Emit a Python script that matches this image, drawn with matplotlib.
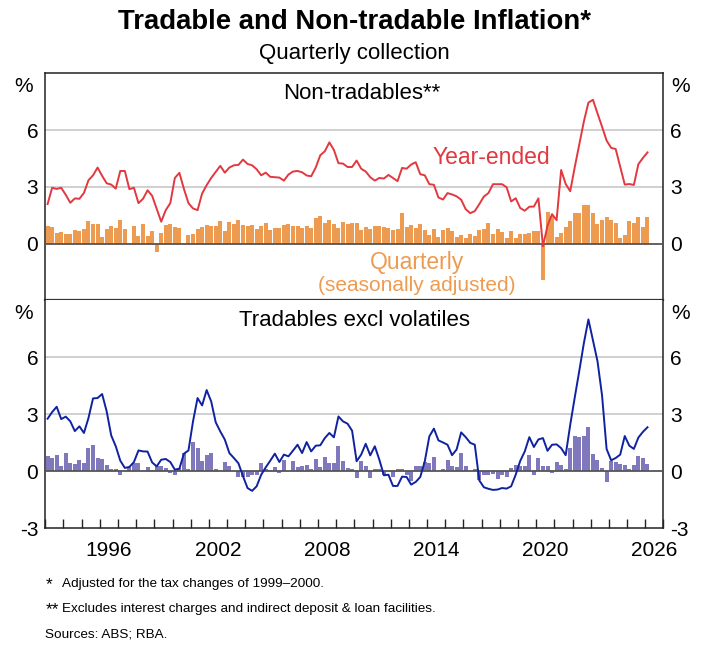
import numpy as np
import pandas as pd
import matplotlib
matplotlib.use("Agg")
import matplotlib.pyplot as plt

plt.rcParams['font.family'] = ['Liberation Sans', 'DejaVu Sans']
plt.rcParams['axes.unicode_minus'] = False

# quarterly data, 1993Q1 to 2026Q1
quarters = pd.period_range('1993Q1', '2026Q1', freq='Q')

nontrad_yearended = [
    2.09, 2.95, 2.89, 2.95, 2.58, 2.16, 2.39, 2.37, 2.68, 3.35, 3.61, 4.02, 3.58, 3.19, 3.12, 2.91,
    3.84, 3.84, 2.88, 2.95, 2.14, 2.37, 2.82, 2.53, 1.84, 1.16, 1.77, 2.14, 3.47, 3.74, 2.89, 2.14,
    1.86, 1.77, 2.65, 3.09, 3.47, 3.79, 4.11, 3.75, 4.02, 4.14, 4.16, 4.44, 4.21, 4.14,
    3.93, 3.61, 3.75, 3.53, 3.51, 3.49, 3.33, 3.65, 3.81, 3.84, 3.77, 3.60, 3.56, 4.02, 4.67, 4.88,
    5.35, 4.95, 4.25, 4.23, 4.05, 4.05, 4.39, 3.96, 3.81, 3.51, 3.33, 3.47, 3.44, 3.63, 3.47, 3.30,
    4.00, 3.96, 4.18, 4.30, 3.67, 3.61, 3.14, 3.11, 2.44, 2.33, 2.67, 2.60, 2.50,
    2.32, 1.82, 1.61, 1.72, 2.09, 2.49, 2.67, 3.14, 3.14, 3.14, 2.98, 2.23, 2.40, 1.88, 1.74, 1.95,
    1.96, 2.39, -0.14, 0.95, 1.56, 1.24, 3.89, 3.15, 2.77, 4.05, 5.25, 6.45, 7.45, 7.60, 6.88, 6.18,
    5.45, 5.06, 5.00, 4.07, 3.12, 3.15, 3.10, 4.20, 4.53, 4.82,
]
nontrad_quarterly = [
    0.95, 0.90, 0.58, 0.63, 0.53, 0.53, 0.74, 0.65, 0.79, 1.21, 1.05, 1.05, 0.37, 0.79, 0.95, 0.84,
    1.26, 0.79, -0.03, 0.95, 0.42, 1.05, 0.42, 0.68, -0.42, 0.58, 1.00, 1.05, 0.90, 0.84, 0.03, 0.47,
    0.53, 0.79, 0.90, 1.00, 0.95, 0.95, 1.21, 0.68, 1.16, 1.05, 1.26, 1.00, 0.95, 1.00,
    0.79, 0.95, 1.10, 0.74, 0.84, 0.84, 1.00, 1.05, 0.95, 0.95, 0.84, 0.95, 0.84, 1.37, 1.47, 1.10,
    1.26, 1.05, 0.84, 1.16, 1.05, 1.10, 1.10, 0.74, 0.90, 0.79, 0.95, 0.95, 0.90, 0.84, 0.74, 0.79,
    1.63, 0.90, 1.00, 0.84, 1.05, 0.74, 0.47, 0.79, 0.37, 0.74, 0.84, 0.68, 0.33,
    0.47, 0.32, 0.53, 0.42, 0.74, 0.79, 1.10, 0.53, 0.79, 0.63, 0.32, 0.68, 0.32, 0.53, 0.53, 0.58,
    0.68, 0.68, -1.93, 1.68, 1.47, 0.37, 0.58, 0.90, 1.21, 1.63, 1.63, 2.05, 2.05, 1.63, 1.05, 1.26,
    1.42, 1.26, 1.10, 0.32, 0.47, 1.21, 1.10, 1.42, 0.90, 1.42,
]
trad_yearended = [
    2.77, 3.12, 3.40, 2.75, 2.88, 2.63, 2.12, 2.37, 2.02, 2.81, 3.84, 3.86, 4.07, 3.16, 1.89, 1.32,
    0.56, 0.18, 0.23, 0.49, 1.10, 1.05, 1.04, 0.47, 0.26, 0.61, 0.65, 0.49, 0.09, 0.14, 0.93, 1.10,
    2.63, 3.86, 3.47, 4.28, 3.68, 2.58, 2.10, 1.67, 0.96, 0.70, 0.42, -0.26, -0.88, -1.03,
    -0.79, -0.18, 0.21, 0.56, 0.93, 0.49, 0.88, 0.79, 1.09, 1.40, 0.96, 1.54, 1.05, 1.35, 1.37, 1.75,
    2.02, 1.79, 2.89, 2.63, 2.51, 2.14, 0.53, 0.88, 1.45, 0.84, 1.32, 0.61, -0.21, -0.18, -0.77, -0.77,
    -0.28, -0.30, -0.70, -0.56, -0.30, 0.53, 1.84, 2.25, 1.63, 1.52, 1.40, 0.85, 1.15,
    2.05, 1.80, 1.50, 1.40, -0.48, -0.84, -0.92, -0.98, -0.96, -0.88, -0.91, -0.79, -0.18, 0.55, 1.05, 1.80,
    1.28, 1.68, 1.75, 1.08, 1.40, 1.42, 1.22, 0.85, 2.45, 3.90, 5.30, 6.75, 8.00, 6.90, 5.80, 4.00,
    1.18, 0.58, 0.70, 0.88, 1.86, 1.35, 1.18, 1.78, 2.08, 2.32,
]
trad_quarterly = [
    0.82, 0.72, 0.88, 0.30, 0.98, 0.46, 0.40, 0.61, 0.46, 1.25, 1.40, 0.72, 0.67, 0.35, 0.14, 0.14,
    -0.17, 0.03, 0.22, 0.44, 0.46, 0.03, 0.21, 0.05, 0.26, 0.26, 0.15, -0.10, -0.20, 0.20, 0.96, 0.10,
    1.52, 1.25, 0.56, 0.88, 0.98, 0.14, 0.02, 0.51, 0.26, 0.04, -0.32, -0.30, -0.32, -0.20,
    -0.18, 0.46, 0.14, 0.09, 0.25, -0.09, 0.61, 0.03, 0.55, 0.25, 0.30, 0.35, 0.12, 0.65, 0.25, 0.77,
    0.46, 0.46, 1.35, 0.56, 0.19, 0.14, -0.37, 0.56, 0.30, -0.37, 0.10, 0.10, -0.18, 0.02, -0.32, 0.14,
    0.14, -0.18, -0.53, 0.30, 0.30, 0.51, 0.46, 0.74, 0.04, 0.14, 0.58, 0.30, 0.21,
    0.98, 0.30, 0.00, 0.14, -0.45, -0.20, -0.20, -0.15, -0.42, -0.21, -0.32, 0.15, 0.35, 0.30, 0.30, 0.88,
    -0.18, 0.72, 0.30, 0.30, -0.09, 0.51, 0.35, 0.14, 1.23, 1.88, 1.79, 1.88, 2.35, 0.93, 0.61, 0.18,
    -0.58, 0.56, 0.49, 0.39, 0.33, 0.14, 0.33, 0.82, 0.72, 0.40,
]

year_labels = [1996, 2002, 2008, 2014, 2020, 2026]

RED = '#E2383F'
ORANGE = '#EE9B52'
PURPLE = '#7F78BD'
BLUE = '#0F22A0'

# centre of each quarter in decimal years
x = quarters.year + (quarters.quarter - 0.5) / 4

fig = plt.figure(figsize=(7.08, 6.56), dpi=100)
ax1 = fig.add_axes([0.064, 0.5420, 0.873, 0.3463])
ax2 = fig.add_axes([0.064, 0.1947, 0.873, 0.3473])

for ax in (ax1, ax2):
    ax.set_xlim(1993, 2027)
    ax.set_ylim(-3, 9)
    for g in (3, 6):
        ax.axhline(g, color='#C8C8C8', lw=1.2, zorder=0)
    ax.tick_params(axis='y', length=0, pad=5, labelsize=15, labelright=True)
    for s in ax.spines.values():
        s.set_linewidth(1.1)
        s.set_color('#222222')
    ax.text(-0.02, 0.985, '%', transform=ax.transAxes, ha='right', va='top', fontsize=15)
    ax.text(1.012, 0.985, '%', transform=ax.transAxes, ha='left', va='top', fontsize=15)

# top panel: non-tradables
ax1.bar(x, nontrad_quarterly, width=0.22, color=ORANGE, zorder=2)
ax1.axhline(0, color='#555555', lw=1.3, zorder=3)
ax1.plot(x, nontrad_yearended, color=RED, lw=1.4, zorder=4)
ax1.set_yticks([0, 3, 6])
ax1.set_xticks([])
ax1.spines['bottom'].set_color('#333333')
ax1.spines['bottom'].set_linewidth(1.6)
ax1.text(0.512, 0.913, 'Non-tradables**', transform=ax1.transAxes, ha='center', va='center', fontsize=16)
ax1.text(0.721, 4.55, 'Year-ended', color=RED, ha='center', va='center', fontsize=16.5,
         transform=ax1.get_yaxis_transform())
ax1.text(0.601, -1.0, 'Quarterly', color=ORANGE, ha='center', va='center', fontsize=16.5,
         transform=ax1.get_yaxis_transform())
ax1.text(0.601, -2.2, '(seasonally adjusted)', color=ORANGE, ha='center', va='center', fontsize=15,
         transform=ax1.get_yaxis_transform())

# bottom panel: tradables excl volatiles
ax2.bar(x, trad_quarterly, width=0.22, color=PURPLE, zorder=2)
ax2.axhline(0, color='#555555', lw=1.3, zorder=3)
ax2.plot(x, trad_yearended, color=BLUE, lw=1.4, zorder=4)
ax2.set_yticks([-3, 0, 3, 6])
ax2.spines['top'].set_visible(False)
ax2.text(0.5, 0.914, 'Tradables excl volatiles', transform=ax2.transAxes, ha='center', va='center', fontsize=16)

ax2.set_xticks(np.arange(1993, 2028))
ax2.set_xticklabels([])
ax2.tick_params(axis='x', which='major', direction='in', length=6.5, width=1, color='#222222')
ax2.set_xticks([y + 0.5 for y in year_labels], minor=True)
ax2.set_xticklabels([str(y) for y in year_labels], minor=True)
ax2.tick_params(axis='x', which='minor', length=0, pad=9, labelsize=15)

fig.text(0.5, 0.966, 'Tradable and Non-tradable Inflation*', ha='center', va='center',
         fontsize=19.8, fontweight='bold')
fig.text(0.5, 0.918, 'Quarterly collection', ha='center', va='center', fontsize=16)

fig.text(0.065, 0.109, '*', fontsize=12.5, va='center')
fig.text(0.088, 0.109, 'Adjusted for the tax changes of 1999\u20132000.', fontsize=9.7, va='center')
fig.text(0.064, 0.071, '**', fontsize=12.5, va='center')
fig.text(0.088, 0.071, 'Excludes interest charges and indirect deposit & loan facilities.', fontsize=9.7,
         va='center')
fig.text(0.064, 0.033, 'Sources: ABS; RBA.', fontsize=9.7, va='center')

fig.savefig('out.png', dpi=100)
